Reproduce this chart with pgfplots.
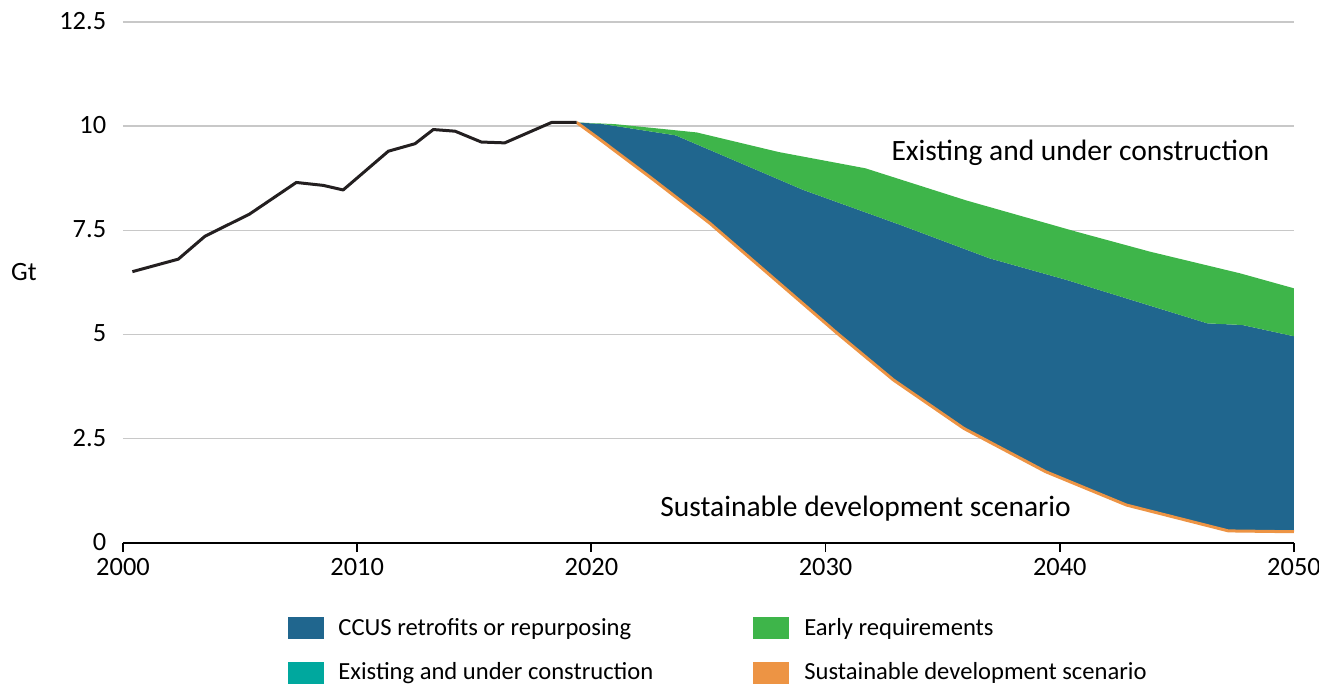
\documentclass[border=0pt]{standalone}
\usepackage{fontspec}
\setmainfont{Carlito}
\usepackage{pgfplots}
\pgfplotsset{compat=1.18}
\usepgfplotslibrary{fillbetween}
\definecolor{ccusblue}{RGB}{32,102,142}
\definecolor{earlygreen}{RGB}{62,181,74}
\definecolor{existteal}{RGB}{0,168,158}
\definecolor{sdsorange}{RGB}{237,148,68}
\definecolor{histblack}{RGB}{35,31,32}
\definecolor{gridgray}{RGB}{200,200,200}

\pgfplotstableread{
x y
2000.4 6.51
2002.36 6.81
2003.5 7.36
2005.4 7.89
2007.4 8.65
2008.55 8.58
2009.4 8.47
2011.33 9.40
2012.47 9.58
2013.25 9.92
2014.18 9.88
2015.3 9.62
2016.3 9.60
2018.3 10.09
2019.37 10.09
}\histdata

\pgfplotstableread{
x y
2019.37 10.09
2020.2 9.75
2022.5 8.78
2025.06 7.67
2030.5 5.03
2032.9 3.91
2035.9 2.75
2039.4 1.71
2042.85 0.91
2047.2 0.29
2050 0.27
}\sdsdata

\pgfplotstableread{
x y
2019.37 10.09
2020.5 10.05
2023.6 9.78
2029.05 8.47
2033.2 7.63
2037.0 6.83
2040.3 6.31
2046.3 5.27
2047.8 5.23
2050 4.96
}\ccusdata

\pgfplotstableread{
x y
2019.37 10.09
2021.0 10.05
2024.5 9.85
2028.0 9.38
2031.7 8.99
2036.0 8.22
2040.7 7.47
2043.85 6.99
2047.7 6.47
2050 6.11
}\earlydata

\begin{document}
\begin{tikzpicture}
\begin{axis}[
  scale only axis,
  width=585.5pt, height=260.5pt,
  at={(0,0)}, anchor=south west,
  xmin=2000, xmax=2050, ymin=0, ymax=12.5,
  xtick={2000,2010,...,2050},
  ytick={0,2.5,5,7.5,10,12.5},
  axis x line*=bottom, axis y line*=left,
  x axis line style={black, line width=0.9pt, -},
  y axis line style={draw=none},
  xtick style={black, line width=0.9pt},
  ytick style={draw=none},
  tick align=outside,
  major tick length=4.5pt,
  ymajorgrids,
  grid style={gridgray, line width=0.7pt},
  /pgf/number format/assume math mode=true,
  /pgf/number format/1000 sep={},
  tick label style={font=\fontsize{13.2}{15}\selectfont, black},
  xticklabel style={yshift=0.3pt},
  yticklabel style={xshift=-0.4pt, yshift=0.5pt},
  ylabel={Gt},
  every axis y label/.style={at={(rel axis cs:0,0.52)}, anchor=center, xshift=-49.5pt, font=\fontsize{13.2}{15}\selectfont},
  clip=false,
  legend columns=2,
  legend cell align=left,
  legend image code/.code={\fill[#1, draw=none] (0pt,-5.5pt) rectangle (18pt,5.5pt);},
  legend style={
    at={(rel axis cs:0.1409,0)}, anchor=north west, yshift=-36pt,
    draw=none, fill=none, inner sep=0pt, outer sep=0pt,
    font=\fontsize{12.3}{14}\selectfont,
    nodes={inner sep=0pt, text height=10pt, text depth=3pt},
    row sep=9.25pt,
    /tikz/column 1/.style={column sep=7.2pt},
    /tikz/column 2/.style={column sep=50pt},
    /tikz/column 3/.style={column sep=7.5pt},
  },
]
\addplot[draw=none, name path=sds, forget plot] table {\sdsdata};
\addplot[draw=none, name path=ccus, forget plot] table {\ccusdata};
\addplot[draw=none, name path=early, forget plot] table {\earlydata};
\addplot[fill=ccusblue, draw=none, forget plot] fill between[of=ccus and sds];
\addplot[fill=earlygreen, draw=none, forget plot] fill between[of=early and ccus];
\addplot[sdsorange, line width=1.5pt, forget plot] table {\sdsdata};
\addplot[histblack, line width=1.5pt, line join=round, forget plot] table {\histdata};

\addlegendimage{fill=ccusblue, draw=none}
\addlegendentry{CCUS retrofits or repurposing}
\addlegendimage{fill=earlygreen, draw=none}
\addlegendentry{Early requirements}
\addlegendimage{fill=existteal, draw=none}
\addlegendentry{Existing and under construction}
\addlegendimage{fill=sdsorange, draw=none}
\addlegendentry{Sustainable development scenario}

\node[anchor=base west, inner sep=0pt, font=\fontsize{14.75}{17}\selectfont] at (axis cs:2032.8,9.185) {Existing and under construction};
\node[anchor=base west, inner sep=0pt, font=\fontsize{14.75}{17}\selectfont] at (axis cs:2022.93,0.63) {Sustainable development scenario};
\end{axis}
\pgfresetboundingbox
\useasboundingbox (-61.5pt,-71.5pt) rectangle (598pt,271.5pt);
\end{tikzpicture}
\end{document}
